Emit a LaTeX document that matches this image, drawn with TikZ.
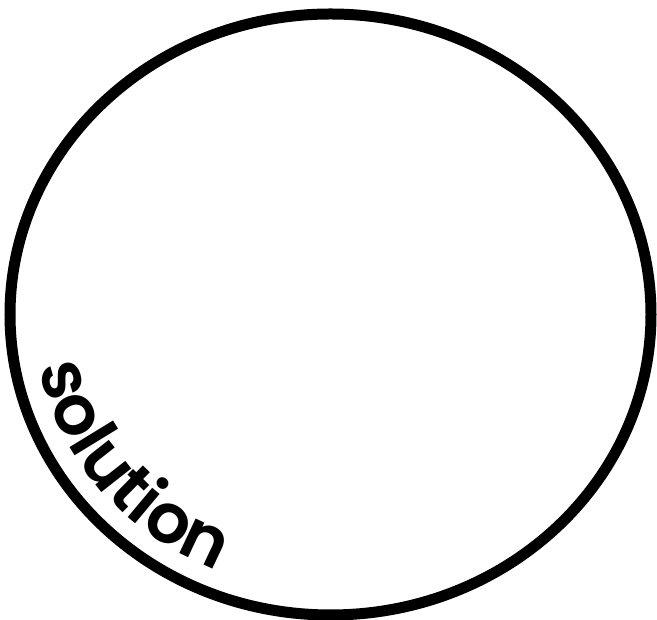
\documentclass[tikz,border=0pt]{standalone}
\usepackage{fontspec}
\newfontfamily\labelfont{Poppins SemiBold}
\usetikzlibrary{shapes.geometric,decorations.text}

\begin{document}
\begin{tikzpicture}[x=1pt, y=1pt, boundary/.style={draw, ellipse, line width=11pt, inner sep=0pt}]
    \useasboundingbox (0,0) rectangle (657,620);
    \node[boundary, minimum width=641pt, minimum height=601pt] (domain) at (330.5,305.5) {};

    % label following the lower left rim
    \path[decorate, decoration={text along path, text align=left,
        text={|\labelfont\fontsize{69}{69}\selectfont|solution}}]
        (domain.center) ++(191:297 and 277) arc[start angle=191, end angle=262, x radius=297, y radius=277];
\end{tikzpicture}
\end{document}
